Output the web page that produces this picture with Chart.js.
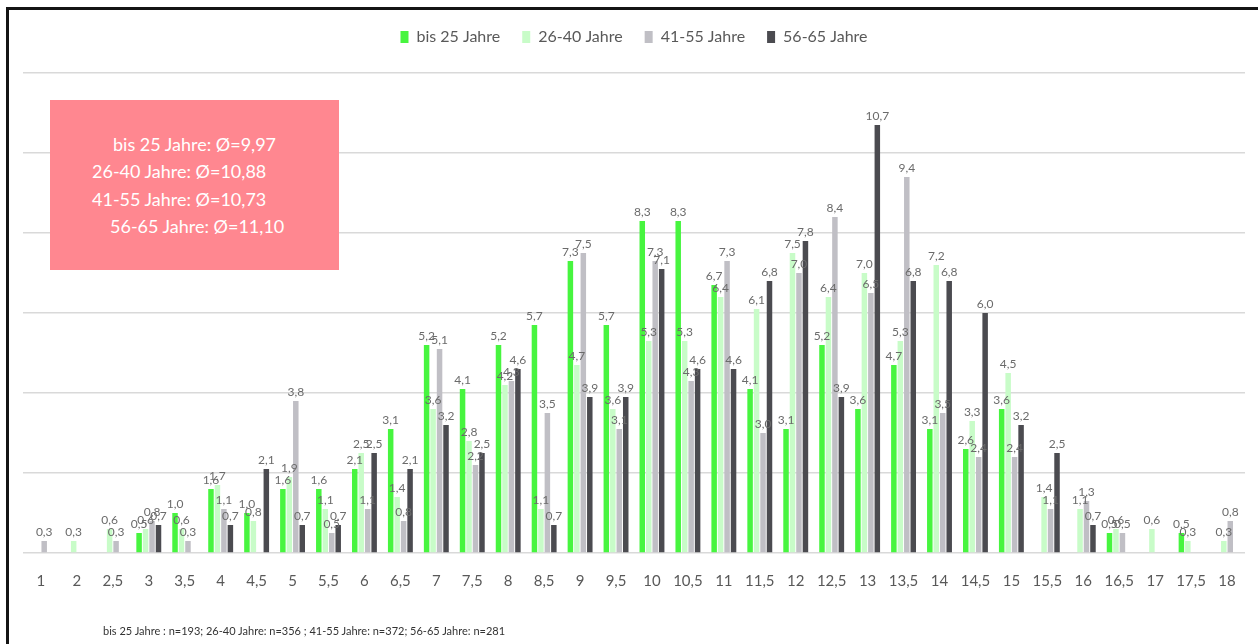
<!DOCTYPE html>
<html lang="de">
<head>
<meta charset="UTF-8">
<title>Verteilung nach Altersgruppen</title>
<script src="https://cdn.jsdelivr.net/npm/chart.js"></script>
<style>
body { margin: 0; background: #fff; font-family: Lato, "Noto Sans", sans-serif; }
#wrap { position: relative; width: 1258px; height: 644px; overflow: hidden; }
#frame { position: absolute; left: 6px; top: 7px; right: -10px; bottom: -10px;
    border-top: 3px solid #141414; border-left: 3px solid #141414; pointer-events: none; }
#chartBox { position: absolute; left: 0; top: 0; width: 1258px; height: 644px; }
#avgBox { position: absolute; left: 50px; top: 100px; width: 289px; height: 170px;
    background: #ff8790; color: #fff; font-size: 18px; line-height: 27.3px; }
#avgBox div { position: absolute; white-space: nowrap; }
#note { position: absolute; left: 103px; top: 624px; font-size: 11px; color: #333; white-space: nowrap; }
</style>
</head>
<body>
<div id="wrap">
    <div id="chartBox"><canvas id="chart" width="1258" height="644"></canvas></div>
    <div id="avgBox">
        <div style="left:63px;top:31px">bis 25 Jahre: Ø=9,97</div>
        <div style="left:42px;top:58px">26-40 Jahre: Ø=10,88</div>
        <div style="left:42px;top:86px">41-55 Jahre: Ø=10,73</div>
        <div style="left:60px;top:113px">56-65 Jahre: Ø=11,10</div>
    </div>
    <div id="note">bis 25 Jahre : n=193; 26-40 Jahre: n=356 ; 41-55 Jahre: n=372; 56-65 Jahre: n=281</div>
    <div id="frame"></div>
</div>
<script>
const categories = ['1', '2', '2,5', '3', '3,5', '4', '4,5', '5', '5,5', '6', '6,5', '7', '7,5', '8', '8,5',
    '9', '9,5', '10', '10,5', '11', '11,5', '12', '12,5', '13', '13,5', '14', '14,5', '15', '15,5',
    '16', '16,5', '17', '17,5', '18'];

// values in percent, null = no bar
const bis25 = [null, null, null, 0.5, 1.0, 1.6, 1.0, 1.6, 1.6, 2.1, 3.1, 5.2, 4.1, 5.2, 5.7,
    7.3, 5.7, 8.3, 8.3, 6.7, 4.1, 3.1, 5.2, 3.6, 4.7, 3.1, 2.6, 3.6, null,
    null, 0.5, null, 0.5, null];
const j26_40 = [null, 0.3, 0.6, 0.6, 0.6, 1.7, 0.8, 1.9, 1.1, 2.5, 1.4, 3.6, 2.8, 4.2, 1.1,
    4.7, 3.6, 5.3, 5.3, 6.4, 6.1, 7.5, 6.4, 7.0, 5.3, 7.2, 3.3, 4.5, 1.4,
    1.1, 0.6, 0.6, 0.3, 0.3];
const j41_55 = [0.3, null, 0.3, 0.8, 0.3, 1.1, null, 3.8, 0.5, 1.1, 0.8, 5.1, 2.2, 4.3, 3.5,
    7.5, 3.1, 7.3, 4.3, 7.3, 3.0, 7.0, 8.4, 6.5, 9.4, 3.5, 2.4, 2.4, 1.1,
    1.3, 0.5, null, null, 0.8];
const j56_65 = [null, null, null, 0.7, null, 0.7, 2.1, 0.7, 0.7, 2.5, 2.1, 3.2, 2.5, 4.6, 0.7,
    3.9, 3.9, 7.1, 4.6, 4.6, 6.8, 7.8, 3.9, 10.7, 6.8, 6.8, 6.0, 3.2, 2.5,
    0.7, null, null, null, null];

const seriesNames = ['bis 25 Jahre', '26-40 Jahre', '41-55 Jahre', '56-65 Jahre'];
const seriesColors = ['#47f53f', '#c8fcc8', '#c0bfc5', '#4b4b50'];
const yMax = 12;
const yStep = 2;

// draws the value above each bar, German decimal comma
const valueLabels = {
    id: 'valueLabels',
    afterDatasetsDraw(chart) {
        const ctx = chart.ctx;
        ctx.save();
        ctx.font = '12px Lato, "Noto Sans", sans-serif';
        ctx.fillStyle = '#6b6b6b';
        ctx.textAlign = 'center';
        ctx.textBaseline = 'bottom';
        chart.data.datasets.forEach((ds, i) => {
            chart.getDatasetMeta(i).data.forEach((bar, j) => {
                const v = ds.data[j];
                if (v === null) return;
                ctx.fillText(v.toFixed(1).replace('.', ','), bar.x, bar.y - 3);
            });
        });
        ctx.restore();
    }
};

// extra room between legend and plot
const legendGap = {
    id: 'legendGap',
    beforeInit(chart) {
        const fit = chart.legend.fit;
        chart.legend.fit = function () {
            fit.bind(chart.legend)();
            this.height += 18;
        };
    }
};

const ctx = document.getElementById('chart').getContext('2d');
new Chart(ctx, {
    type: 'bar',
    data: {
        labels: categories,
        datasets: [bis25, j26_40, j41_55, j56_65].map((d, i) => ({
            label: seriesNames[i],
            data: d,
            backgroundColor: seriesColors[i],
            borderWidth: 0,
            barPercentage: 0.85,
            categoryPercentage: 0.72
        }))
    },
    options: {
        responsive: false,
        animation: false,
        layout: { padding: { left: 23, right: 13, top: 7, bottom: 43 } },
        plugins: {
            legend: {
                position: 'top',
                labels: {
                    boxWidth: 8,
                    boxHeight: 12,
                    padding: 22,
                    color: '#595959',
                    font: { family: 'Lato, "Noto Sans", sans-serif', size: 16 }
                }
            },
            tooltip: { enabled: false }
        },
        scales: {
            x: {
                grid: { display: false },
                border: { display: false },
                ticks: {
                    color: '#595959',
                    font: { family: 'Lato, "Noto Sans", sans-serif', size: 15 },
                    maxRotation: 0,
                    autoSkip: false,
                    padding: 11
                }
            },
            y: {
                min: 0,
                max: yMax,
                ticks: { display: false, stepSize: yStep },
                grid: { color: '#d9d9d9', lineWidth: 1.5, drawTicks: false },
                border: { display: false }
            }
        }
    },
    plugins: [valueLabels, legendGap]
});
</script>
</body>
</html>
